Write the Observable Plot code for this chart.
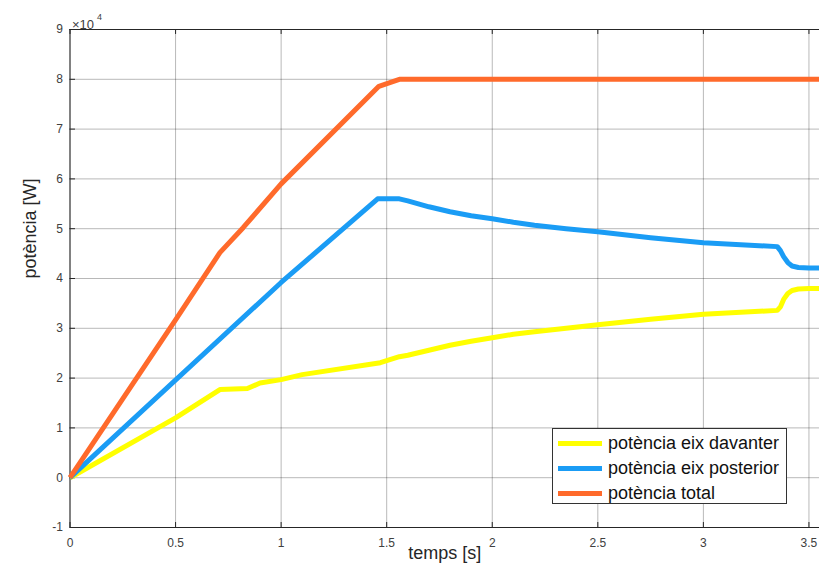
<!DOCTYPE html>
<html>
<head>
<meta charset="utf-8">
<script src="https://cdn.jsdelivr.net/npm/d3@7"></script>
<script src="https://cdn.jsdelivr.net/npm/@observablehq/plot@0.6"></script>
<style>
  html, body { margin: 0; padding: 0; background: #fff; }
  #wrap { position: relative; width: 819px; height: 567px; overflow: hidden; font-family: "Liberation Sans", Arial, sans-serif; }
  #legend { position: absolute; left: 552px; top: 428px; width: 233px; height: 74px; border: 1px solid #333; background: #fff; box-sizing: content-box; }
  .row { position: absolute; left: 0; height: 25px; display: flex; align-items: center; }
  .sw { width: 44px; height: 5px; margin-left: 5px; margin-right: 6px; }
  .lab { font-size: 18px; color: #111; white-space: nowrap; }
</style>
</head>
<body>
<div id="wrap"></div>
<script>
const seriesNames = ["potència eix davanter", "potència eix posterior", "potència total"];
const seriesColors = ["#ffff00", "#1a9cf5", "#ff6a2b"];

// time samples [s] and power values [W]
const tFront = [0, 0.5, 0.71, 0.84, 0.9, 1.0, 1.1, 1.47, 1.56, 1.6, 1.65, 1.7, 1.75, 1.8, 1.9, 2.0, 2.1, 2.2, 2.35, 2.5, 2.75, 3.0, 3.35, 3.365, 3.38, 3.40, 3.42, 3.45, 3.5, 3.55];
const pFront = [0, 12000, 17700, 17900, 19000, 19700, 20700, 23100, 24300, 24600, 25100, 25600, 26100, 26600, 27400, 28100, 28800, 29300, 30000, 30700, 31800, 32800, 33600, 34300, 35800, 37000, 37600, 37900, 38000, 38000];

const tRear = [0, 1.0, 1.457, 1.56, 1.6, 1.65, 1.7, 1.75, 1.8, 1.9, 2.0, 2.1, 2.2, 2.35, 2.5, 2.75, 3.0, 3.35, 3.365, 3.38, 3.40, 3.42, 3.45, 3.5, 3.55];
const pRear = [0, 39200, 56000, 56000, 55600, 55000, 54400, 53900, 53400, 52600, 52000, 51300, 50700, 50000, 49400, 48200, 47200, 46400, 45600, 44400, 43200, 42500, 42200, 42100, 42100];

const tTotal = [0, 0.5, 0.71, 0.82, 1.0, 1.463, 1.56, 2.0, 2.5, 3.0, 3.55];
const pTotal = [0, 31700, 45200, 50200, 59000, 78600, 80000, 80000, 80000, 80000, 80000];

const xTicks = [0, 0.5, 1, 1.5, 2, 2.5, 3, 3.5];
const yTicks = [-10000, 0, 10000, 20000, 30000, 40000, 50000, 60000, 70000, 80000, 90000];

const toRows = (ts, ps, name) => ts.map((t, i) => ({t, p: ps[i], name}));
const data = [
  ...toRows(tFront, pFront, seriesNames[0]),
  ...toRows(tRear, pRear, seriesNames[1]),
  ...toRows(tTotal, pTotal, seriesNames[2])
];

const gridCol = "#000";
const chart = Plot.plot({
  width: 819,
  height: 567,
  marginLeft: 69.5,
  marginRight: 0,
  marginTop: 29,
  marginBottom: 40,
  style: { fontFamily: "'Liberation Sans', Arial, sans-serif", background: "#fff" },
  x: { domain: [0, 3.55] },
  y: { domain: [-10000, 90000] },
  color: { domain: seriesNames, range: seriesColors },
  marks: [
    Plot.gridX(xTicks, { stroke: gridCol, strokeOpacity: 0.28 }),
    Plot.gridY(yTicks, { stroke: gridCol, strokeOpacity: 0.28 }),
    // inward tick marks
    Plot.ruleX(xTicks, { x: d => d, y1: -10000, y2: -9000, stroke: "#262626" }),
    Plot.ruleX(xTicks, { x: d => d, y1: 90000, y2: 89000, stroke: "#262626" }),
    Plot.ruleY(yTicks, { y: d => d, x1: 0, x2: 0.026, stroke: "#262626" }),
    // axis box lines
    Plot.ruleX([0], { stroke: "#262626" }),
    Plot.ruleY([-10000, 90000], { stroke: "#262626" }),
    Plot.axisX(xTicks, { tickSize: 0, tickPadding: 11, fontSize: 12, fill: "#404040", tickFormat: d => String(d), label: null }),
    Plot.axisY(yTicks, { tickSize: 0, tickPadding: 7, fontSize: 12, fill: "#404040", tickFormat: d => String(d / 10000), label: null }),
    Plot.lineY(data, { x: "t", y: "p", z: "name", stroke: "name", strokeWidth: 5, strokeLinejoin: "round", strokeLinecap: "butt", curve: "linear" }),
    Plot.text(["×10"], { frameAnchor: "top-left", dx: 2, dy: -10, text: d => d, fontSize: 13, fill: "#404040", textAnchor: "start" }),
    Plot.text(["4"], { frameAnchor: "top-left", dx: 27, dy: -16, text: d => d, fontSize: 9, fill: "#404040", textAnchor: "start" }),
    Plot.text(["temps [s]"], { frameAnchor: "bottom", dy: 31, text: d => d, fontSize: 18, fill: "#262626" }),
    Plot.text(["potència [W]"], { frameAnchor: "left", dx: -40, rotate: -90, text: d => d, fontSize: 18, fill: "#262626" })
  ]
});

const wrap = document.getElementById("wrap");
wrap.appendChild(chart);

const legend = document.createElement("div");
legend.id = "legend";
seriesNames.forEach((name, i) => {
  const row = document.createElement("div");
  row.className = "row";
  row.style.top = (2 + i * 25) + "px";
  const sw = document.createElement("div");
  sw.className = "sw";
  sw.style.background = seriesColors[i];
  const lab = document.createElement("span");
  lab.className = "lab";
  lab.textContent = name;
  row.appendChild(sw);
  row.appendChild(lab);
  legend.appendChild(row);
});
wrap.appendChild(legend);
</script>
</body>
</html>
